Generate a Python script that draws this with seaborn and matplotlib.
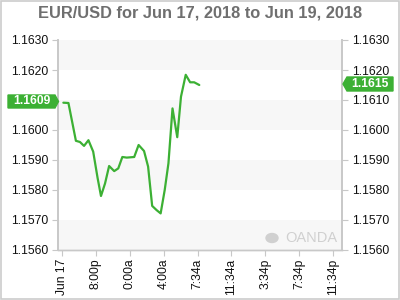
import matplotlib
matplotlib.use("Agg")
import matplotlib.pyplot as plt
import seaborn as sns
import pandas as pd
import numpy as np
from matplotlib.patches import Polygon, Rectangle

sns.set_theme(style="white")
plt.rcParams['font.family'] = ['Liberation Sans', 'DejaVu Sans']

# x positions in tick units (0 = "Jun 17", 1 = "8:00p", ...)
x_pos = [0.04, 0.19, 0.41, 0.53, 0.65, 0.78, 0.92, 1.05, 1.15, 1.27, 1.39, 1.54,
         1.66, 1.78, 1.91, 2.13, 2.26, 2.42, 2.54, 2.66, 2.79, 2.91, 3.03, 3.14,
         3.26, 3.40, 3.51, 3.65, 3.78, 3.90, 4.05]
rate = [1.16091, 1.16090, 1.15964, 1.15960, 1.15947, 1.15966, 1.15928, 1.15840,
        1.15780, 1.15822, 1.15880, 1.15863, 1.15872, 1.15910, 1.15908, 1.15910,
        1.15950, 1.15930, 1.15878, 1.15747, 1.15733, 1.15722, 1.15800, 1.15889,
        1.16072, 1.15976, 1.16111, 1.16184, 1.16159, 1.16159, 1.16150]
tick_labels = ["Jun 17", "8:00p", "0:00a", "4:00a", "7:34a", "11:34a", "3:34p", "7:34p", "11:34p"]
y_ticks = [1.1560, 1.1570, 1.1580, 1.1590, 1.1600, 1.1610, 1.1620, 1.1630]
first_label = "1.1609"
last_label = "1.1615"

df = pd.DataFrame({"x": x_pos, "rate": rate})

fig = plt.figure(figsize=(4, 3), dpi=100)
ax = fig.add_axes([58/400, 1-250/300, (342-58)/400, 210/300])

xmin, xmax = -0.118, 8.26
ymin, ymax = 1.1560, 1.1630
# alternating bands
for i in range(7):
    lo = ymin + i*0.001
    if i % 2 == 0:
        ax.axhspan(lo, lo+0.001, color="#f7f7f7", lw=0, zorder=0)

green = "#3cb034"
sns.lineplot(data=df, x="x", y="rate", ax=ax, color=green, linewidth=1.6, zorder=3)

ax.set_xlim(xmin, xmax)
ax.set_ylim(ymin, ymax)
ax.set_xlabel("")
ax.set_ylabel("")
ax.set_xticks(range(len(tick_labels)))
ax.set_xticklabels(tick_labels, rotation=90, fontsize=8.7, color="#111111")
ax.set_yticks(y_ticks)
# left 1.1610 label is hidden behind the current-value tag in the reference
left_labels = ["" if abs(v - 1.1610) < 1e-9 else f"{v:.4f}" for v in y_ticks]
ax.set_yticklabels(left_labels, fontsize=8.7, color="#111111")
ax.tick_params(axis="y", which="both", left=True, right=True, labelleft=True,
               labelright=False, length=4, width=0.8, color="#c8c8c8", pad=3)
ax.tick_params(axis="x", bottom=True, length=4, width=0.8, color="#c8c8c8", pad=2)

# right axis labels
ax2 = ax.twinx()
ax2.set_ylim(ymin, ymax)
ax2.set_yticks(y_ticks)
ax2.set_yticklabels([f"{v:.4f}" for v in y_ticks], fontsize=8.7, color="#111111")
ax2.tick_params(axis="y", right=True, length=4, width=0.8, color="#c8c8c8", pad=3)
ax2.grid(False)

for a in (ax, ax2):
    for side in ["left", "right"]:
        a.spines[side].set_color("#c8c8c8")
        a.spines[side].set_linewidth(1.2)
    a.spines["top"].set_visible(False)
    a.spines["bottom"].set_color("#c8c8c8")
    a.spines["bottom"].set_linewidth(1.0)

# green value tags
def px(xp, yp):
    return (xp/400, 1-yp/300)

yl = 101.5
poly = Polygon([px(8, yl-6.5), px(55, yl-6.5), px(58.5, yl), px(55, yl+6.5), px(8, yl+6.5)],
               closed=True, transform=fig.transFigure, color=green, zorder=5)
fig.patches.append(poly)
fig.text(31.5/400, 1-yl/300, first_label, color="white", fontsize=8.7, fontweight="bold",
         ha="center", va="center", zorder=10)
yr = 84
poly2 = Polygon([px(343, yr), px(347, yr-7), px(393, yr-7), px(393, yr+7), px(347, yr+7)],
                closed=True, transform=fig.transFigure, color=green, zorder=5)
fig.patches.append(poly2)
fig.text(370/400, 1-yr/300, last_label, color="white", fontsize=8.7, fontweight="bold",
         ha="center", va="center", zorder=10)

# title
fig.text(0.5, 1-12.5/300, "EUR/USD for Jun 17, 2018 to Jun 19, 2018", ha="center", va="center",
         fontsize=11.8, fontweight="bold", color="#6f6f6f")

# watermark
fig.text(311/400, 1-238/300, "OANDA", ha="center", va="center", fontsize=10.5,
         color="#d0d0d0")
fig.patches.append(plt.Circle(px(272, 238), 6/400, transform=fig.transFigure,
                              color="#d0d0d0", zorder=4))

# outer frame
fig.patches.append(Rectangle((0.0015, 0.002), 0.997, 0.996, transform=fig.transFigure,
                             fill=False, edgecolor="#cccccc", linewidth=1.2))

fig.savefig("out.png", dpi=100)
